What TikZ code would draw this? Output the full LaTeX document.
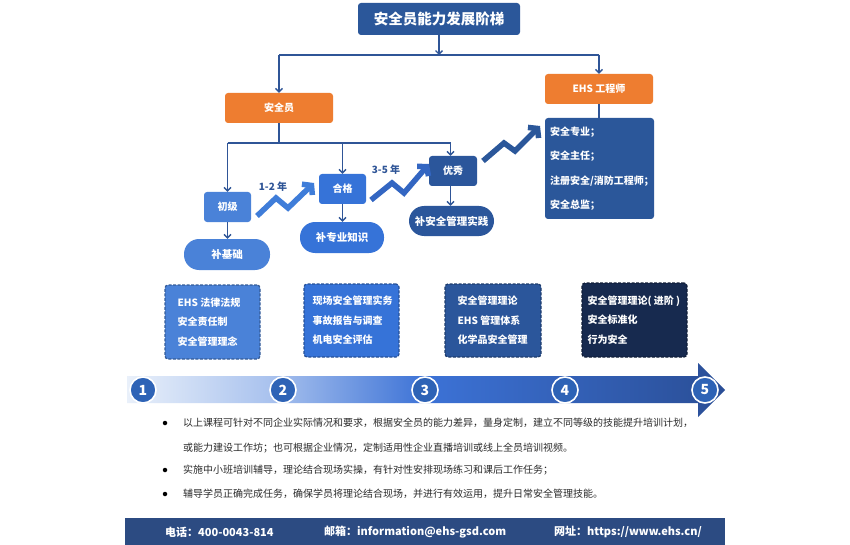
\documentclass[tikz,border=0pt]{standalone}
\usepackage{fontspec}
\setmainfont{Noto Sans CJK SC}
\usetikzlibrary{arrows.meta,shapes.geometric}
\definecolor{navy}{HTML}{2B579A}
\definecolor{orangeC}{HTML}{EE7D30}
\definecolor{lineC}{HTML}{2F5597}
\definecolor{blueA}{HTML}{4A82D8}
\definecolor{blueB}{HTML}{3673D8}
\definecolor{blueC}{HTML}{2B569B}
\definecolor{darkD}{HTML}{172A4F}
\definecolor{footC}{HTML}{2C4B82}
\definecolor{txtC}{HTML}{2B2B2B}
\definecolor{circC}{HTML}{2E63B6}
\definecolor{zigA}{HTML}{3F7DD9}
\definecolor{zigB}{HTML}{3366C2}
\definecolor{zigC}{HTML}{2B579A}
\definecolor{barL}{HTML}{E9F0FA}
\definecolor{barLM}{HTML}{A9C2EE}
\definecolor{barM}{HTML}{3C72D6}
\definecolor{barR}{HTML}{2A4E96}
\pgfdeclarehorizontalshading{barshade}{100bp}{color(0bp)=(barL); color(25bp)=(barL); color(37bp)=(barLM); color(50bp)=(barM); color(75bp)=(barR); color(100bp)=(barR)}
\tikzset{
 conn/.style={draw=lineC, line width=1.3pt},
 tipped/.style={-{Straight Barb[length=3.5pt,width=7pt]}},
 sbox/.style={rectangle, rounded corners=3pt, inner sep=0pt, text=white, font=\bfseries\fontsize{10}{12}\selectfont},
 pill/.style={sbox, rounded corners=15pt, font=\bfseries\fontsize{10.5}{12}\selectfont},
 dbox/.style={rectangle, rounded corners=3pt, dash pattern=on 3pt off 1.5pt, line width=1.2pt, inner sep=0pt},
 dtext/.style={anchor=west, inner sep=0pt, text=white, align=left, font=\bfseries\fontsize{10}{19.5}\selectfont},
 zig/.style={line width=5.5pt, line join=miter, -{Straight Barb[length=6pt,width=15pt]}},
 zlabel/.style={text=lineC, inner sep=0pt, font=\bfseries\fontsize{10}{12}\selectfont},
 num/.style={circle, minimum size=26pt, inner sep=0pt, fill=circC, draw=white, line width=1.6pt, text=white, font=\bfseries\fontsize{14}{16}\selectfont},
 body/.style={anchor=west, text=txtC, inner sep=0pt, font=\fontsize{10}{12}\selectfont},
 foot/.style={anchor=west, text=white, inner sep=0pt, font=\bfseries\fontsize{11}{13}\selectfont},
 dot/.style={circle, fill=black, inner sep=0pt, minimum size=4.5pt},
}
\begin{document}
\begin{tikzpicture}[x=1pt,y=-1pt]
\useasboundingbox[fill=white] (0,0) rectangle (850,545);

% top part
\node[sbox, fill=navy, minimum width=162pt, minimum height=32pt, font=\bfseries\fontsize{14.5}{16}\selectfont] (title) at (439,19) {安全员能力发展阶梯};
\node[sbox, fill=orangeC, minimum width=108pt, minimum height=30pt] (aqy) at (279,108) {安全员};
\node[sbox, fill=orangeC, minimum width=108pt, minimum height=30pt] (ehs) at (599,89) {EHS 工程师};
\node[sbox, fill=navy, minimum width=109pt, minimum height=101pt] (list) at (599.5,168.5) {};
\node[dtext, font=\bfseries\fontsize{10}{24.4}\selectfont] (listtxt) at ([xshift=5pt]list.west) {安全专业；\\安全主任；\\注册安全/消防工程师；\\安全总监；};

\node[sbox, fill=blueA, minimum width=47pt, minimum height=30pt] (cj) at (227.5,207) {初级};
\node[pill, fill=blueA, minimum width=86pt, minimum height=31pt] (bjc) at (227,254.5) {补基础};
\node[sbox, fill=blueB, minimum width=47pt, minimum height=30pt] (hg) at (342.5,189) {合格};
\node[pill, fill=blueB, minimum width=84pt, minimum height=31pt] (bzy) at (342,237.5) {补专业知识};
\node[sbox, fill=blueC, minimum width=48pt, minimum height=30pt] (yx) at (453,171) {优秀};
\node[pill, fill=blueC, minimum width=85pt, minimum height=30pt] (bsj) at (451.5,221) {补安全管理实践};

\coordinate (t1) at (0,55);
\coordinate (t2) at (0,143);
\draw[conn, tipped] (title.south) -- (title.south |- t1);
\draw[conn] (aqy.north |- t1) -- (ehs.north |- t1);
\draw[conn, tipped] (aqy.north |- t1) -- (aqy.north);
\draw[conn, tipped] (ehs.north |- t1) -- (ehs.north);
\draw[conn] (ehs.south) -- (list.north -| ehs.south);

\draw[conn] (aqy.south) -- (aqy.south |- t2);
\draw[conn] (cj.north |- t2) -- ([xshift=-2.5pt]yx.north |- t2);
\draw[conn, tipped] (cj.north |- t2) -- (cj.north);
\draw[conn, tipped] (hg.north |- t2) -- (hg.north);
\draw[conn, tipped] ([xshift=-2.5pt]yx.north |- t2) -- ([xshift=-2.5pt]yx.north);
\draw[conn, tipped] (cj.south) -- (bjc.north -| cj.south);
\draw[conn, tipped] (hg.south) -- (bzy.north -| hg.south);
\draw[conn, tipped] ([xshift=-2.5pt]yx.south) -- ([xshift=-2.5pt]yx.south |- bsj.north);

% zigzag arrows
\coordinate (z1a) at (257,216); \coordinate (z1b) at (276,198); \coordinate (z1c) at (288,208); \coordinate (z1d) at (314,183);
\coordinate (z2a) at (371,200); \coordinate (z2b) at (392,183); \coordinate (z2c) at (404,193); \coordinate (z2d) at (429,164);
\coordinate (z3a) at (483,161); \coordinate (z3b) at (504,143); \coordinate (z3c) at (515,151); \coordinate (z3d) at (540,126);
\draw[zig, draw=zigA] (z1a) -- (z1b) -- (z1c) -- (z1d);
\draw[zig, draw=zigB] (z2a) -- (z2b) -- (z2c) -- (z2d);
\draw[zig, draw=zigC] (z3a) -- (z3b) -- (z3c) -- (z3d);
\node[zlabel] (l12) at (273,187) {1-2 年};
\node[zlabel] (l35) at (386,170) {3-5 年};

% dashed boxes
\node[dbox, fill=blueA, draw=blueA!70!black, minimum width=95pt, minimum height=74pt] (b1) at (212.5,322) {};
\node[dbox, fill=blueB, draw=blueB!70!black, minimum width=95pt, minimum height=73pt] (b2) at (351.5,320.5) {};
\node[dbox, fill=blueC, draw=blueC!70!black, minimum width=96pt, minimum height=73pt] (b3) at (493,320.5) {};
\node[dbox, fill=darkD, draw=darkD!70!black, minimum width=105pt, minimum height=74pt] (b4) at (634.5,320) {};
\node[dtext] (t1txt) at ([xshift=13pt]b1.west) {EHS 法律法规\\安全责任制\\安全管理理念};
\node[dtext] (t2txt) at ([xshift=9pt]b2.west) {现场安全管理实务\\事故报告与调查\\机电安全评估};
\node[dtext] (t3txt) at ([xshift=13pt]b3.west) {安全管理理论\\EHS 管理体系\\化学品安全管理};
\node[dtext] (t4txt) at ([xshift=6pt]b4.west) {安全管理理论( 进阶 )\\安全标准化\\行为安全};

% timeline
\shade[shading=barshade]
  (127,376) -- (698,376) -- (698,363) -- (725,390) -- (698,417) -- (698,403) -- (127,403) -- cycle;
\node[num] (n1) at (143,390) {1};
\node[num] (n2) at (283,390) {2};
\node[num] (n3) at (425,390) {3};
\node[num] (n4) at (565,390) {4};
\node[num] (n5) at (705,390) {5};

% bullet text
\node[dot] (d1) at (165,423) {};
\node[dot] (d2) at (165,470) {};
\node[dot] (d3) at (165,494) {};
\node[body] (p1) at (183,423) {以上课程可针对不同企业实际情况和要求，根据安全员的能力差异，量身定制，建立不同等级的技能提升培训计划，};
\node[body] (p1b) at (183,448) {或能力建设工作坊；也可根据企业情况，定制适用性企业直播培训或线上全员培训视频。};
\node[body] (p2) at (183,470) {实施中小班培训辅导，理论结合现场实操，有针对性安排现场练习和课后工作任务；};
\node[body] (p3) at (183,494) {辅导学员正确完成任务，确保学员将理论结合现场，并进行有效运用，提升日常安全管理技能。};

% footer
\fill[footC] (125,518) rectangle (725,545);
\node[foot] (f1) at (165,532) {电话：400-0043-814};
\node[foot] (f2) at (324,532) {邮箱：information@ehs-gsd.com};
\node[foot] (f3) at (554,532) {网址：https://www.ehs.cn/};
\end{tikzpicture}
\end{document}
